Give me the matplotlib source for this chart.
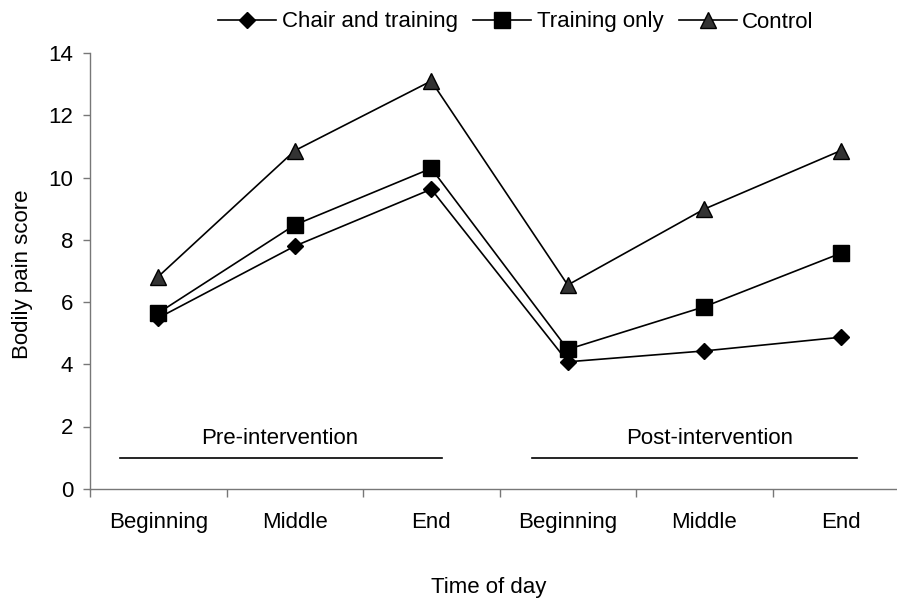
import matplotlib
matplotlib.use("Agg")
import matplotlib.pyplot as plt
import numpy as np

plt.rcParams['font.family'] = ['Liberation Sans', 'DejaVu Sans']

categories = ["Beginning", "Middle", "End", "Beginning", "Middle", "End"]
chair_training = [5.49, 7.80, 9.63, 4.08, 4.43, 4.87]
training_only = [5.65, 8.48, 10.30, 4.48, 5.85, 7.57]
control = [6.82, 10.87, 13.11, 6.55, 8.99, 10.87]
series_names = ["Chair and training", "Training only", "Control"]
group_labels = ["Pre-intervention", "Post-intervention"]
y_label = "Bodily pain score"
x_label = "Time of day"

W, H = 897, 601
fig = plt.figure(figsize=(W / 100, H / 100), dpi=100)
ax_left, ax_right, ax_top, ax_bottom = 90, 909, 53.3, 488.7
ax = fig.add_axes([ax_left / W, 1 - ax_bottom / H, (ax_right - ax_left) / W, (ax_bottom - ax_top) / H])

x = np.arange(len(categories))
fs = 16
lw = 1.2
ax.plot(x, chair_training, color='black', lw=lw, marker='D', markersize=8.5,
        markerfacecolor='black', markeredgecolor='black', label=series_names[0], zorder=3)
ax.plot(x, training_only, color='black', lw=lw, marker='s', markersize=11,
        markerfacecolor='black', markeredgecolor='black', label=series_names[1], zorder=3)
ax.plot(x, control, color='black', lw=lw, marker='^', markersize=11,
        markerfacecolor='#333333', markeredgecolor='black', markeredgewidth=1.0,
        label=series_names[2], zorder=3)

ax.set_xlim(-0.5, len(categories) - 0.5)
ax.set_ylim(0, 14)
ax.set_yticks(np.arange(0, 15, 2))
ax.set_xticks(np.arange(-0.5, len(categories), 1.0))
ax.set_xticklabels([])
ax.set_xticks(x, minor=True)
ax.set_xticklabels(categories, minor=True, fontsize=fs)
ax.tick_params(axis='x', which='major', length=6, width=1, color='#777777', direction='out')
ax.tick_params(axis='x', which='minor', length=0, pad=17)
ax.tick_params(axis='y', length=5, width=1, color='#777777', direction='out', pad=7, labelsize=fs)

for s in ['top', 'right']:
    ax.spines[s].set_visible(False)
for s in ['left', 'bottom']:
    ax.spines[s].set_color('#777777')
    ax.spines[s].set_linewidth(1.0)

# group annotations
ax.plot([-0.28, 2.08], [1, 1], color='black', lw=1.2)
ax.plot([2.74, 5.12], [1, 1], color='black', lw=1.2)
ax.text(0.89, 1.63, group_labels[0], ha='center', va='center', fontsize=fs)
ax.text(4.04, 1.63, group_labels[1], ha='center', va='center', fontsize=fs)

ax.set_ylabel(y_label, fontsize=fs, va='center')
ax.yaxis.set_label_coords((22 - ax_left) / (ax_right - ax_left), (ax_bottom - 274) / (ax_bottom - ax_top))
ax.set_xlabel(x_label, fontsize=fs, va='center')
ax.xaxis.set_label_coords((489 - ax_left) / (ax_right - ax_left), (ax_bottom - 587) / (ax_bottom - ax_top))

fig.legend(loc='center', bbox_to_anchor=(516 / W, 1 - 22 / H), ncol=3, frameon=False,
           fontsize=fs, handlelength=2.6, handletextpad=0.25, columnspacing=0.7,
           borderaxespad=0, borderpad=0)

fig.savefig("out.png", dpi=100)
